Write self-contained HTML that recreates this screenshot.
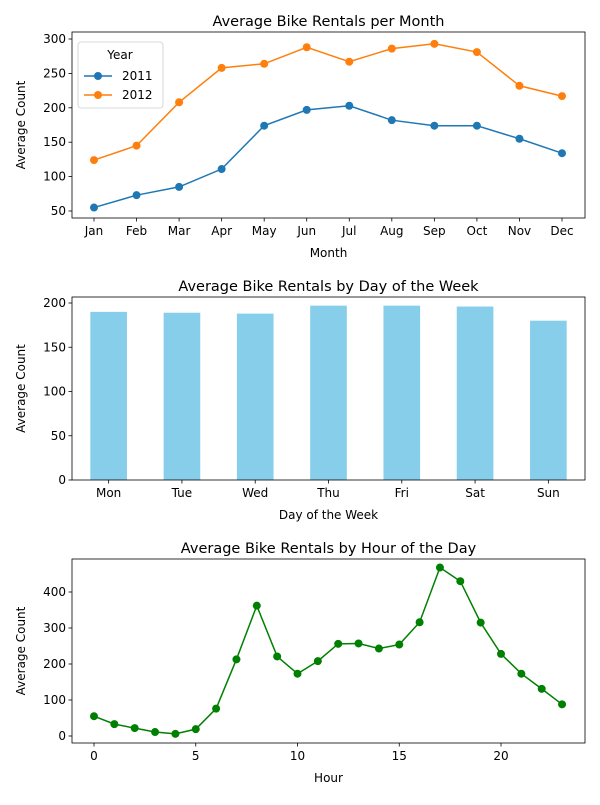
<!DOCTYPE html>
<html><head><meta charset="utf-8"><style>
body{margin:0;background:#fff;font-family:"Liberation Sans","DejaVu Sans",sans-serif}
svg text{font-family:"DejaVu Sans","Liberation Sans",sans-serif;fill:#000}
</style></head><body>
<svg id="c" width="600" height="800" xmlns="http://www.w3.org/2000/svg"></svg>
<script>
const months=["Jan","Feb","Mar","Apr","May","Jun","Jul","Aug","Sep","Oct","Nov","Dec"];
const y2011=[55,73,85,111,174,197,203,182,174,174,155,134];
const y2012=[124,145,208,258,264,288,267,286,293,281,232,217];
const monthTicks=[50,100,150,200,250,300];
const days=["Mon","Tue","Wed","Thu","Fri","Sat","Sun"];
const dayVals=[190,189,188,197,197,196,180];
const dayTicks=[0,50,100,150,200];
const hours=[0,1,2,3,4,5,6,7,8,9,10,11,12,13,14,15,16,17,18,19,20,21,22,23];
const hourVals=[55,33,22,11,6,19,76,213,362,221,173,208,256,257,243,254,316,468,430,315,228,173,131,88];
const hourYTicks=[0,100,200,300,400];
const hourXTicks=[0,5,10,15,20];

const svg=document.getElementById('c');
const NS='http://www.w3.org/2000/svg';
function mk(tag,at,parent){const e=document.createElementNS(NS,tag);for(const k in at)e.setAttribute(k,at[k]);(parent||svg).appendChild(e);return e;}
function txt(s,x,y,size,anchor,parent){const t=mk('text',{x:x,y:y,'font-size':size,'text-anchor':anchor||'middle'},parent);t.textContent=s;return t;}

function frame(g,x0,y0,x1,y1){
  const r=mk('rect',{x:x0,y:y0,width:x1-x0,height:y1-y0,fill:'none',stroke:'#000','stroke-width':0.8},g);
  
  
}
function yTicks(g,ticks,sy,x0,name){
  ticks.forEach(v=>{const y=sy(v);mk('line',{x1:x0-3.5,x2:x0,y1:y,y2:y,stroke:'#000','stroke-width':0.8},g);
    const t=txt(String(v),x0-6,y+4,12,'end',g);
    
    });
}
function xTick(g,label,x,y1,name){
  mk('line',{x1:x,x2:x,y1:y1,y2:y1+3.5,stroke:'#000','stroke-width':0.8},g);
  const t=txt(label,x,y1+17,12,'middle',g);
  
  
}
function titles(g,title,xl,yl,x0,y0,x1,y1){
  let t=txt(title,(x0+x1)/2,y0-6,14.5,'middle',g);
  
  
  t=txt(xl,(x0+x1)/2,y1+39,12,'middle',g);
  
  
  t=txt(yl,0,0,12,'middle',g);
  t.setAttribute('transform','translate(25,'+((y0+y1)/2)+') rotate(-90)');
  
  
}
function series(g,xs,vals,sx,sy,color,name){
  const pts=vals.map((v,i)=>sx(xs[i])+','+sy(v)).join(' ');
  const pl=mk('polyline',{points:pts,fill:'none',stroke:color,'stroke-width':1.5},g);
  
  
  vals.forEach((v,i)=>{const c=mk('circle',{cx:sx(xs[i]),cy:sy(v),r:4,fill:color},g);
    
    });
}

// Chart 1
(function(){
  const g=mk('g',{});
  const x0=72,x1=585,y0=32,y1=218;
  const sx=i=>94+i*(562-94)/11;
  const sy=v=>211-(v-50)*(211-39)/250;
  const idx=months.map((m,i)=>i);
  series(g,idx,y2011,sx,sy,'#1f77b4','series-2011');
  series(g,idx,y2012,sx,sy,'#ff7f0e','series-2012');
  frame(g,x0,y0,x1,y1);
  yTicks(g,monthTicks,sy,x0,'y-tick-label');
  months.forEach((m,i)=>xTick(g,m,sx(i),y1,'x-tick-label'));
  titles(g,'Average Bike Rentals per Month','Month','Average Count',x0,y0,x1,y1);
  const lg=mk('g',{},g);
  mk('rect',{x:78,y:42,width:85,height:66,rx:3,fill:'#fff',stroke:'#ccc','stroke-width':0.8},lg);
  let t=txt('Year',120,59,12,'middle',lg);
  [['2011','#1f77b4',76],['2012','#ff7f0e',95]].forEach(([n,c,y])=>{
    mk('line',{x1:84,x2:112,y1:y,y2:y,stroke:c,'stroke-width':1.5},lg);
    mk('circle',{cx:98,cy:y,r:4,fill:c},lg);
    const e=txt(n,122,y+4,12,'start',lg);
    
    
  });
})();

// Chart 2
(function(){
  const g=mk('g',{});
  const x0=72,x1=585,y0=297,y1=480;
  const step=(x1-x0)/days.length;
  const sx=i=>x0+step*(i+0.5);
  const sy=v=>480-v*(480-303)/200;
  dayVals.forEach((v,i)=>{const r=mk('rect',{x:sx(i)-step*0.25,y:sy(v),width:step*0.5,height:sy(0)-sy(v),fill:'#87ceeb'},g);
    
    });
  frame(g,x0,y0,x1,y1);
  yTicks(g,dayTicks,sy,x0,'y-tick-label');
  days.forEach((d,i)=>xTick(g,d,sx(i),y1,'x-tick-label'));
  titles(g,'Average Bike Rentals by Day of the Week','Day of the Week','Average Count',x0,y0,x1,y1);
})();

// Chart 3
(function(){
  const g=mk('g',{});
  const x0=72,x1=585,y0=559,y1=743;
  const sx=h=>94+h*(501-94)/20;
  const sy=v=>736-v*(736-592)/400;
  series(g,hours,hourVals,sx,sy,'#008000','hourly');
  frame(g,x0,y0,x1,y1);
  yTicks(g,hourYTicks,sy,x0,'y-tick-label');
  hourXTicks.forEach(h=>xTick(g,String(h),sx(h),y1,'x-tick-label'));
  titles(g,'Average Bike Rentals by Hour of the Day','Hour','Average Count',x0,y0,x1,y1);
})();
</script>
</body></html>
